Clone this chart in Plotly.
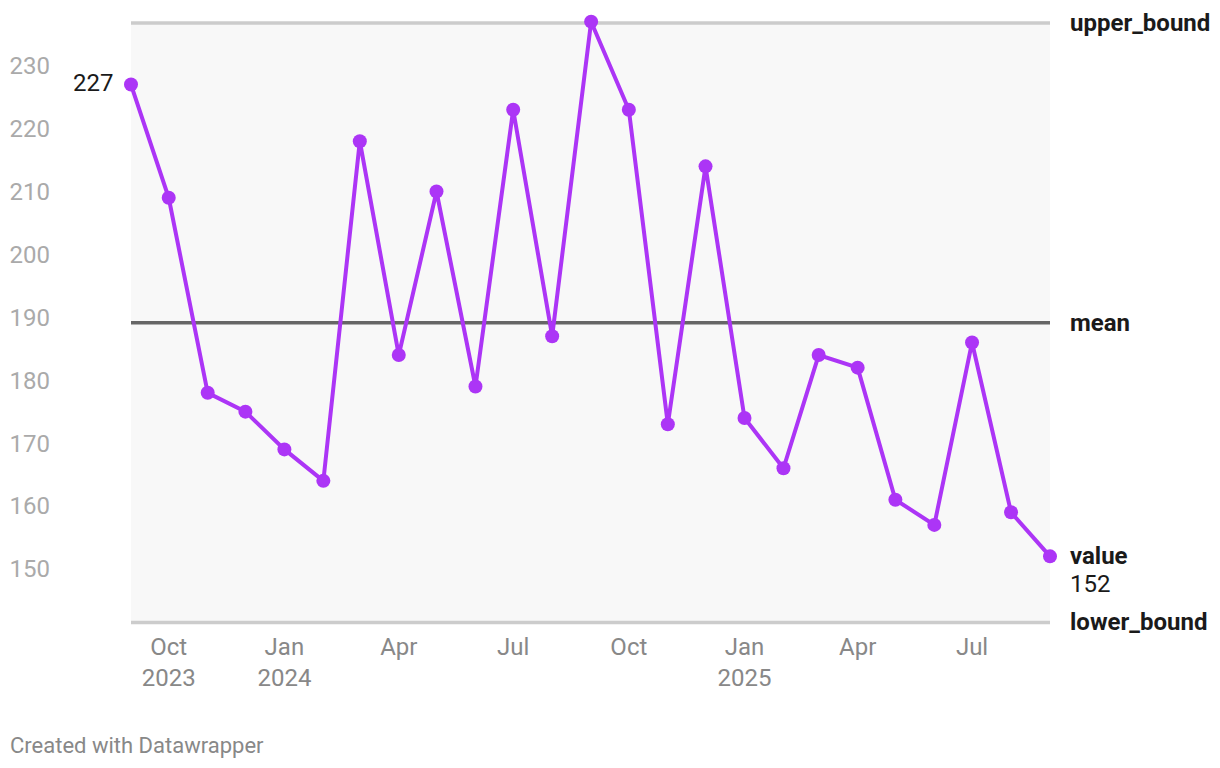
import plotly.graph_objects as go

months = ["2023-09-01", "2023-10-01", "2023-11-01", "2023-12-01",
          "2024-01-01", "2024-02-01", "2024-03-01", "2024-04-01",
          "2024-05-01", "2024-06-01", "2024-07-01", "2024-08-01",
          "2024-09-01", "2024-10-01", "2024-11-01", "2024-12-01",
          "2025-01-01", "2025-02-01", "2025-03-01", "2025-04-01",
          "2025-05-01", "2025-06-01", "2025-07-01", "2025-08-01",
          "2025-09-01"]
values = [227, 209, 178, 175, 169, 164, 218, 184, 210, 179, 223, 187, 237,
          223, 173, 214, 174, 166, 184, 182, 161, 157, 186, 159, 152]
upper_bound = 236.8
mean_value = 189.15
lower_bound = 141.5

x_tickvals = ["2023-10-01", "2024-01-01", "2024-04-01", "2024-07-01",
              "2024-10-01", "2025-01-01", "2025-04-01", "2025-07-01"]
x_ticktext = ["Oct<br>2023", "Jan<br>2024", "Apr", "Jul",
              "Oct", "Jan<br>2025", "Apr", "Jul"]
y_tickvals = [150, 160, 170, 180, 190, 200, 210, 220, 230]

FONT = "Roboto"
PURPLE = "#ac35f6"
DARK = "#1a1a1a"

fig = go.Figure()

# band between bounds
fig.add_trace(go.Scatter(
    x=[months[0], months[-1]], y=[lower_bound, lower_bound],
    mode="lines", line=dict(width=0), hoverinfo="skip", showlegend=False))
fig.add_trace(go.Scatter(
    x=[months[0], months[-1]], y=[upper_bound, upper_bound],
    mode="lines", line=dict(width=0), fill="tonexty",
    fillcolor="#f8f8f8", hoverinfo="skip", showlegend=False))

# bound lines
for yv, col in [(upper_bound, "#cccccc"), (lower_bound, "#cccccc"),
                (mean_value, "#666666")]:
    fig.add_trace(go.Scatter(
        x=[months[0], months[-1]], y=[yv, yv], mode="lines",
        line=dict(color=col, width=3.5), hoverinfo="skip",
        showlegend=False, cliponaxis=False))

# value line
fig.add_trace(go.Scatter(
    x=months, y=values, mode="lines+markers",
    line=dict(color=PURPLE, width=4),
    marker=dict(color=PURPLE, size=14),
    cliponaxis=False, showlegend=False))

ann = []
for txt, yv in [("upper_bound", upper_bound), ("mean", mean_value),
                ("lower_bound", lower_bound)]:
    ann.append(dict(x=1, xref="paper", y=yv, yref="y", text="<b>%s</b>" % txt,
                    xanchor="left", yanchor="middle", xshift=18,
                    showarrow=False, font=dict(family=FONT, size=24, color=DARK)))
ann.append(dict(x=1, xref="paper", y=values[-1], yref="y", text="<b>value</b>",
                xanchor="left", yanchor="middle", xshift=18,
                showarrow=False, font=dict(family=FONT, size=24, color=DARK)))
ann.append(dict(x=1, xref="paper", y=values[-1], yref="y", text=str(values[-1]),
                xanchor="left", yanchor="middle", xshift=18, yshift=-28,
                showarrow=False, font=dict(family=FONT, size=24, color=DARK)))
ann.append(dict(x=months[0], xref="x", y=values[0], yref="y", text=str(values[0]),
                xanchor="right", yanchor="middle", xshift=-16, yshift=2,
                showarrow=False, font=dict(family=FONT, size=24, color=DARK)))
ann.append(dict(x=0, xref="paper", xanchor="left", xshift=-123,
                y=0, yref="paper", yanchor="middle", yshift=-115,
                text="Created with Datawrapper", showarrow=False,
                font=dict(family=FONT, size=22, color="#888888")))

fig.update_layout(
    width=1212, height=760,
    margin=dict(l=123, r=170, t=7, b=138),
    paper_bgcolor="white", plot_bgcolor="white",
    font=dict(family=FONT),
    annotations=ann,
    xaxis=dict(range=[months[0], months[-1]], tickvals=x_tickvals,
               ticktext=x_ticktext, showgrid=False, zeroline=False,
               showline=False, ticks="", automargin=False,
               tickfont=dict(family=FONT, size=24, color="#888888")),
    yaxis=dict(range=[140.29, 238.06], tickvals=y_tickvals,
               showgrid=False, zeroline=False, showline=False, ticks="",
               ticklabelstandoff=80, automargin=False,
               tickfont=dict(family=FONT, size=24, color="#aaaaaa")),
)

fig.write_html("out.html")
